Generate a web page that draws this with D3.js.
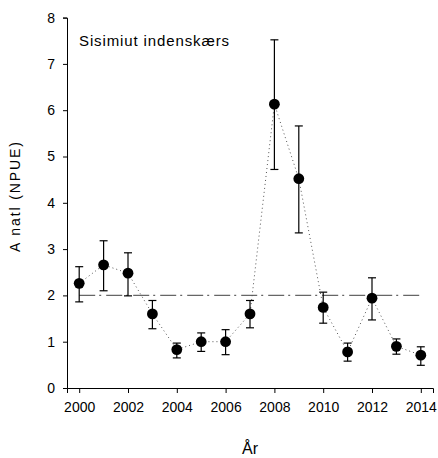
<!DOCTYPE html>
<html>
<head>
<meta charset="utf-8">
<script src="https://cdn.jsdelivr.net/npm/d3@7/dist/d3.min.js"></script>
<style>
  html, body { margin: 0; padding: 0; background: #fff; }
  svg text { font-family: "Liberation Sans", Arial, sans-serif; fill: #000; }
</style>
</head>
<body>
<svg id="chart" width="438" height="458"></svg>
<script>
const years = [2000, 2001, 2002, 2003, 2004, 2005, 2006, 2007, 2008, 2009, 2010, 2011, 2012, 2013, 2014];
const means = [2.26, 2.66, 2.48, 1.60, 0.83, 1.00, 1.00, 1.60, 6.13, 4.52, 1.74, 0.78, 1.94, 0.90, 0.71];
const upper = [2.62, 3.18, 2.92, 1.89, 0.97, 1.19, 1.26, 1.89, 7.52, 5.66, 2.07, 0.97, 2.38, 1.06, 0.89];
const lower = [1.86, 2.10, 1.99, 1.28, 0.65, 0.79, 0.72, 1.30, 4.72, 3.35, 1.40, 0.58, 1.47, 0.73, 0.49];
const refLevel = 2;
const xTicks = [2000, 2002, 2004, 2006, 2008, 2010, 2012, 2014];
const yTicks = [0, 1, 2, 3, 4, 5, 6, 7, 8];
const title = "Sisimiut indenskærs";
const xLabel = "År";
const yLabel = "A natl (NPUE)";

const svg = d3.select("#chart");
const x = d3.scaleLinear().domain([1999.5, 2014.5]).range([67, 433]);
const y = d3.scaleLinear().domain([0, 8]).range([388, 17.6]);

// axes
const xAxis = svg.append("g").attr("transform", "translate(0,388)")
  .call(d3.axisBottom(x).tickValues(xTicks).tickFormat(d3.format("d")).tickSizeOuter(0).tickSize(5).tickPadding(9));
const yAxis = svg.append("g").attr("transform", "translate(67,0)")
  .call(d3.axisLeft(y).tickValues(yTicks).tickFormat(d3.format("d")).tickSizeOuter(0).tickSize(4).tickPadding(8));
[xAxis, yAxis].forEach(g => {
  g.selectAll("path, line").attr("stroke", "#000").attr("stroke-width", 1);
  g.selectAll("text").attr("font-size", 14).attr("font-family", "Liberation Sans, Arial, sans-serif").attr("fill", "#000");
});

// reference line
svg.append("line")
  .attr("x1", x(years[0])).attr("x2", x(years[years.length - 1]))
  .attr("y1", y(refLevel)).attr("y2", y(refLevel))
  .attr("stroke", "#666").attr("stroke-width", 1.3)
  .attr("stroke-dasharray", "16,4,2,5");

const data = years.map((yr, i) => ({ yr, m: means[i], hi: upper[i], lo: lower[i] }));

// connecting dotted line
svg.append("path").datum(data)
  .attr("fill", "none").attr("stroke", "#555").attr("stroke-width", 1)
  .attr("stroke-dasharray", "1,3")
  .attr("d", d3.line().x(d => x(d.yr)).y(d => y(d.m)));

// error bars
const eb = svg.append("g").attr("stroke", "#000").attr("stroke-width", 1.2);
data.forEach(d => {
  eb.append("line").attr("x1", x(d.yr)).attr("x2", x(d.yr)).attr("y1", y(d.hi)).attr("y2", y(d.lo));
  eb.append("line").attr("x1", x(d.yr) - 4).attr("x2", x(d.yr) + 4).attr("y1", y(d.hi)).attr("y2", y(d.hi));
  eb.append("line").attr("x1", x(d.yr) - 4).attr("x2", x(d.yr) + 4).attr("y1", y(d.lo)).attr("y2", y(d.lo));
});

// points
svg.append("g").selectAll("circle").data(data).join("circle")
  .attr("cx", d => x(d.yr)).attr("cy", d => y(d.m)).attr("r", 5.4).attr("fill", "#000");

// texts
svg.append("text").attr("x", 79).attr("y", 46).attr("font-size", 15)
  .attr("textLength", 150).attr("lengthAdjust", "spacing").text(title);
svg.append("text").attr("x", 250).attr("y", 454).attr("font-size", 16)
  .attr("text-anchor", "middle").text(xLabel);
svg.append("text").attr("transform", "translate(20,197) rotate(-90)").attr("font-size", 14)
  .attr("text-anchor", "middle").attr("textLength", 110).attr("lengthAdjust", "spacing").text(yLabel);
</script>
</body>
</html>
